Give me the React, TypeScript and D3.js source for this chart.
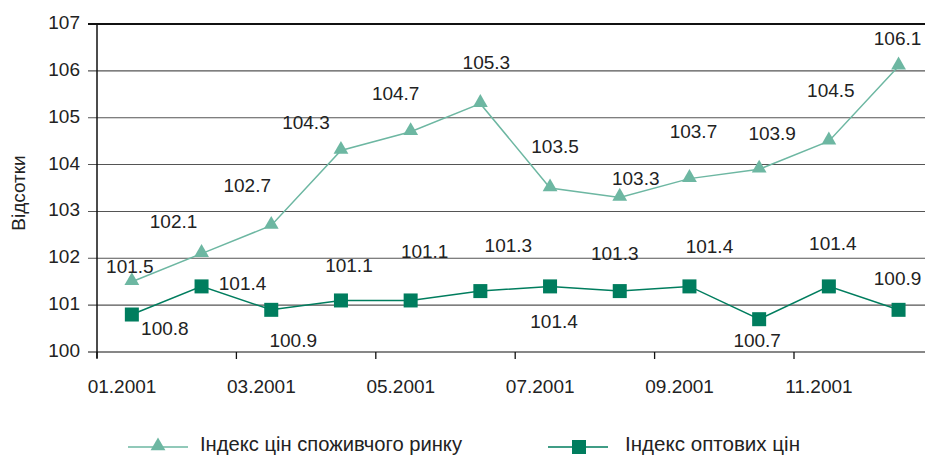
import React from "react";
import * as d3 from "d3";

const months = ["01","02","03","04","05","06","07","08","09","10","11","12"];
const tickMonths = ["01", "03", "05", "07", "09", "11"];
const tickLabels = ["01.2001", "03.2001", "05.2001", "07.2001", "09.2001", "11.2001"];
const cpi = [101.5, 102.1, 102.7, 104.3, 104.7, 105.3, 103.5, 103.3, 103.7, 103.9, 104.5, 106.1];
const wpi = [100.8, 101.4, 100.9, 101.1, 101.1, 101.3, 101.4, 101.3, 101.4, 100.7, 101.4, 100.9];
const yTicks = [100, 101, 102, 103, 104, 105, 106, 107];
const seriesNames = ["Індекс цін споживчого ринку", "Індекс оптових цін"];
const yTitle = "Відсотки";

// label placement offsets (layout only)
const cpiLabelOffsets: [number, number][] = [
  [-2, -9], [-28, -26], [-24, -33], [-35, -22], [-15, -32], [6, -35],
  [5, -35], [16, -12], [4, -41], [13, -29], [2, -44], [-1, -21],
];
const wpiLabelOffsets: [number, number][] = [
  [33, 20], [41, 4], [22, 37], [8, -28], [14, -42], [28, -39],
  [4, 42], [-5, -31], [20, -33], [-2, 28], [4, -36], [-1, -25],
];

const W = 925, H = 456;
const left = 97, top = 24, bottom = 352, right = 97 + 12 * 69.7;
const cpiColor = "#6db7a2";
const wpiColor = "#007d5e";
const font = "'Liberation Sans', Arial, Helvetica, sans-serif";

export default function App() {
  const x = d3.scaleBand<string>().domain(months).range([left, right]).padding(0);
  const y = d3.scaleLinear().domain([100, 107]).range([bottom, top]);
  const cx = (m: string) => (x(m) as number) + x.bandwidth() / 2;
  const line = d3.line<number>().x((_, i) => cx(months[i])).y((v) => y(v));
  const tri = d3.symbol().type(d3.symbolTriangle).size(95)();

  return (
    <svg width={W} height={H} style={{ position: "absolute", left: 0, top: 0, background: "#fff" }} fontFamily={font}>
      {yTicks.map((t) => (
        <g key={t}>
          <line x1={left - 9} x2={W} y1={y(t)} y2={y(t)}
            stroke={t === 107 ? "#111" : t === 100 ? "#111" : "#555"}
            strokeWidth={t === 107 ? 2 : 1.1} />
          <text x={left - 17} y={y(t)} textAnchor="end" dominantBaseline="middle" fontSize={19} fill="#222">{t}</text>
        </g>
      ))}
      <line x1={left} x2={left} y1={top} y2={bottom + 6} stroke="#111" strokeWidth={1.5} />
      {tickMonths.map((m, i) => (
        <g key={m}>
          <line x1={x(m) as number} x2={x(m) as number} y1={bottom} y2={bottom + 7} stroke="#111" strokeWidth={1.3} />
          <text x={(x(m) as number) + 25} y={393} textAnchor="middle" fontSize={19} fill="#222">{tickLabels[i]}</text>
        </g>
      ))}
      <text transform={`translate(25,193) rotate(-90)`} textAnchor="middle" fontSize={19} fill="#222">{yTitle}</text>

      <path d={line(cpi) as string} fill="none" stroke={cpiColor} strokeWidth={1.5} />
      <path d={line(wpi) as string} fill="none" stroke={wpiColor} strokeWidth={1.5} />
      {cpi.map((v, i) => (
        <path key={"c" + i} d={tri as string} transform={`translate(${cx(months[i])},${y(v) - 1})`} fill={cpiColor} />
      ))}
      {wpi.map((v, i) => (
        <rect key={"w" + i} x={cx(months[i]) - 7} y={y(v) - 7} width={14} height={14} fill={wpiColor} />
      ))}
      {cpi.map((v, i) => (
        <text key={"cl" + i} x={cx(months[i]) + cpiLabelOffsets[i][0]} y={y(v) + cpiLabelOffsets[i][1]}
          textAnchor="middle" fontSize={19} fill="#222">{v.toFixed(1)}</text>
      ))}
      {wpi.map((v, i) => (
        <text key={"wl" + i} x={cx(months[i]) + wpiLabelOffsets[i][0]} y={y(v) + wpiLabelOffsets[i][1]}
          textAnchor="middle" fontSize={19} fill="#222">{v.toFixed(1)}</text>
      ))}

      <g>
        <line x1={128} x2={188} y1={447} y2={447} stroke={cpiColor} strokeWidth={1.5} />
        <path d={tri as string} transform="translate(158,446)" fill={cpiColor} />
        <text x={200} y={451} fontSize={19.5} fill="#222" textLength={262} lengthAdjust="spacingAndGlyphs">{seriesNames[0]}</text>
        <line x1={548} x2={608} y1={447} y2={447} stroke={wpiColor} strokeWidth={1.5} />
        <rect x={572} y={440} width={14} height={14} fill={wpiColor} />
        <text x={625} y={451} fontSize={19.5} fill="#222" textLength={175} lengthAdjust="spacingAndGlyphs">{seriesNames[1]}</text>
      </g>
    </svg>
  );
}
